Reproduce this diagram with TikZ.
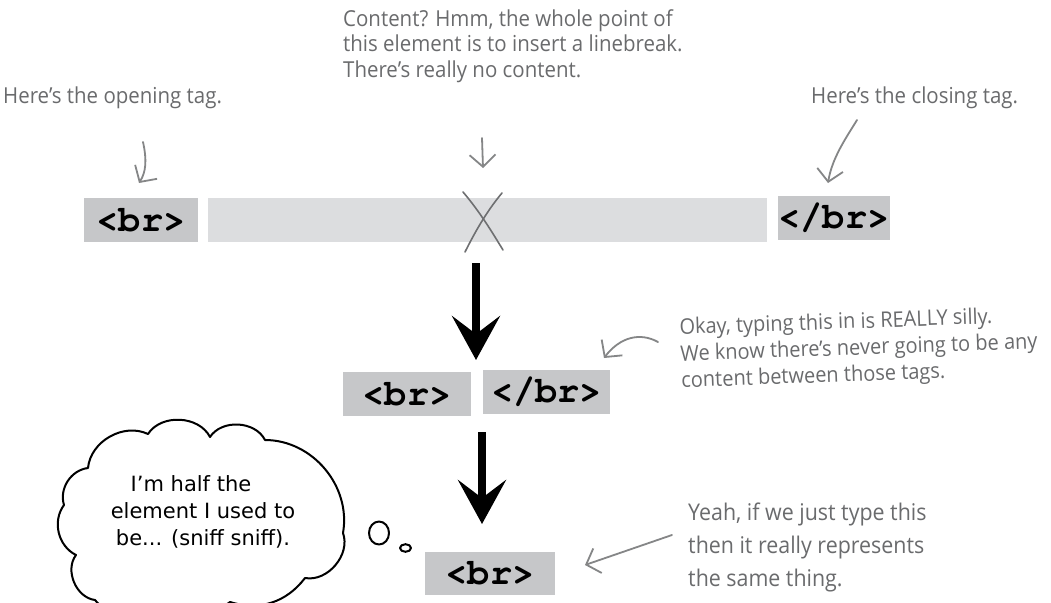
\documentclass[tikz,border=0pt]{standalone}
\usepackage{fontspec}
\setmainfont{DejaVu Sans}
\newfontfamily\handfont[FakeStretch=0.93]{Open Sans}
\newfontfamily\cloudfont{DejaVu Sans}
\newfontfamily\codefont{TeX Gyre Cursor}
\usetikzlibrary{arrows.meta}
\definecolor{tagfill}{HTML}{C6C7C9}
\definecolor{barfill}{HTML}{DCDDDF}
\definecolor{handgray}{HTML}{6A6B6D}
\definecolor{arrowgray}{HTML}{858687}
\definecolor{xgray}{HTML}{6E6F71}
\begin{document}
\begin{tikzpicture}[x=1pt,y=-1pt,
  tagbox/.style={fill=tagfill, inner sep=0pt, text=black,
    font=\codefont\bfseries\fontsize{37}{37}\selectfont},
  barbox/.style={fill=barfill, inner sep=0pt},
  handnote/.style={text=handgray, inner sep=0pt, align=left,
    font=\handfont\fontsize{22}{25.5}\selectfont},
  cloudnote/.style={text=black, inner sep=0pt, align=center,
    font=\cloudfont\fontsize{21}{27}\selectfont},
  grayarrow/.style={draw=arrowgray, line width=1.8pt, line cap=round, line join=round,
    -{Straight Barb[length=12pt,width=26pt,line width=1.8pt]}},
  bigarrow/.style={draw=black, line width=8pt,
    -{Stealth[length=44pt,width=48pt,inset=18pt]}},
  cloudline/.style={draw=black, line width=2pt, line join=round},
  xstroke/.style={draw=xgray, line width=1.6pt, line cap=round}
]
\fill[white] (0,0) rectangle (1051,602);
\useasboundingbox (0,0) rectangle (1051,602);

% ---- top row
\node[tagbox, minimum width=114pt, minimum height=44pt] (open1) at (141,220) {<br>};
\node[barbox, minimum width=559pt, minimum height=44pt] (bar) at (487.5,220) {};
\node[tagbox, minimum width=112pt, minimum height=44pt] (close1) at (834,218) {</br>};
\draw[xstroke] (463,192) .. controls (480,212) and (492,232) .. (503,250);
\draw[xstroke] (502,193) .. controls (486,212) and (474,234) .. (465,252);

% ---- notes at top
\node[handnote, anchor=base west] (opennote) at (3,103) {Here’s the opening tag.};
\node[handnote, anchor=north west] (contentnote) at (343,9)
  {Content? Hmm, the whole point of\\this element is to insert a linebreak.\\There’s really no content.};
\node[handnote, anchor=base west] (closenote) at (811,103) {Here’s the closing tag.};

\coordinate (oa) at (143,142);
\coordinate (ob) at (139,183);
\draw[grayarrow] (oa) .. controls (147,160) and (146,172) .. (ob);
\coordinate (ca) at (482,138);
\coordinate (cb) at (483,168);
\draw[grayarrow] (ca) -- (cb);
\coordinate (cla) at (857,120);
\coordinate (clb) at (828,183);
\draw[grayarrow] (cla) .. controls (846,138) and (832,158) .. (clb);

% ---- middle row
\node[tagbox, minimum width=128pt, minimum height=44pt] (mid1) at (407,394) {<br>};
\node[tagbox, minimum width=127pt, minimum height=44pt] (mid2) at (546.5,392) {</br>};
\coordinate (b1s) at (476,263);
\coordinate (b1e) at (476,360);
\draw[bigarrow] (b1s) -- (b1e);

\node[handnote, anchor=north west, rotate=2, font=\handfont\fontsize{21.5}{26.5}\selectfont] (okaynote) at (679,318)
  {Okay, typing this in is REALLY silly.\\We know there’s never going to be any\\content between those tags.};
\coordinate (ka) at (658,342);
\coordinate (kb) at (604,358);
\draw[grayarrow] (ka) .. controls (640,332) and (620,337) .. (kb);

% ---- bottom row
\node[tagbox, minimum width=130pt, minimum height=43pt] (bot) at (490,573.5) {<br>};
\coordinate (b2s) at (482,432);
\coordinate (b2e) at (482,524);
\draw[bigarrow] (b2s) -- (b2e);

\node[handnote, anchor=north west, font=\handfont\fontsize{23}{33}\selectfont] (yeahnote) at (688,503)
  {Yeah, if we just type this\\then it really represents\\the same thing.};
\coordinate (ya) at (672,535);
\coordinate (yb) at (585,565);
\draw[grayarrow] (ya) -- (yb);

% ---- thought cloud
\draw[cloudline, fill=white]
  (88,468) to[bend left=55] (148,434) to[bend left=60] (210,437)
  to[bend left=60] (265,440) to[bend left=50] (343,533)
  to[bend left=60] (305,578) to[bend left=35] (230,602)
  to[bend left=35] (150,606) to[bend left=45] (95,600)
  to[bend left=60] (76,555) to[bend left=50] (64,505)
  to[bend left=50] cycle;
\node[cloudnote] (cloudtext) at (203,512) {I’m half the\hspace*{24pt}\\element I used to\\be... (sniff sniff).};
\draw[cloudline] (379,533) ellipse [x radius=10, y radius=11.5];
\draw[cloudline] (405.5,548) ellipse [x radius=5.5, y radius=3.8];
\end{tikzpicture}
\end{document}
